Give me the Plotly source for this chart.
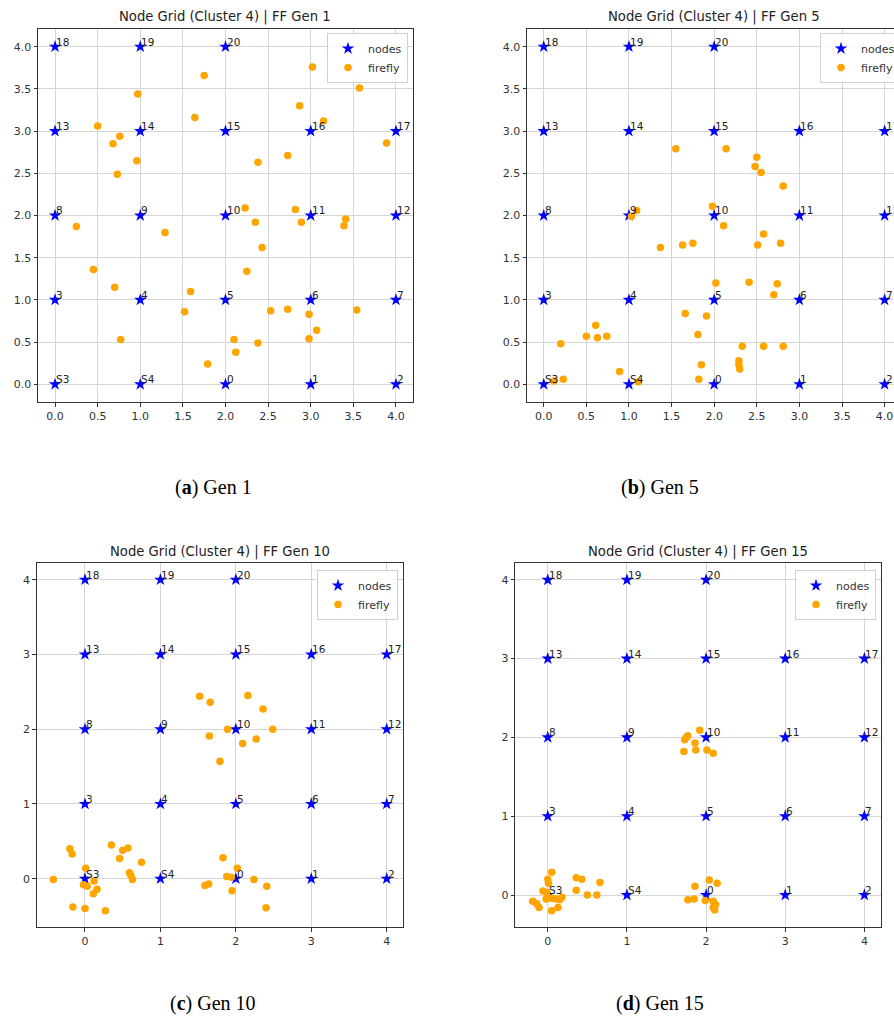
import plotly.graph_objects as go

W, H = 894, 1023

# ---------------- data ----------------
node_x = [0, 1, 2, 3, 4, 0, 1, 2, 3, 4, 0, 1, 2, 3, 4, 0, 1, 2, 3, 4, 0, 1, 2]
node_y = [0, 0, 0, 0, 0, 1, 1, 1, 1, 1, 2, 2, 2, 2, 2, 3, 3, 3, 3, 3, 4, 4, 4]
node_labels = ["S3", "S4", "0", "1", "2", "3", "4", "5", "6", "7", "8", "9", "10",
               "11", "12", "13", "14", "15", "16", "17", "18", "19", "20"]

gen1_x = [1.75, 3.02, 3.57, 0.97, 2.87, 1.64, 3.15, 0.50, 0.76, 0.68, 3.89, 0.96, 2.73, 2.38,
          0.73, 2.23, 2.82, 2.35, 2.89, 3.41, 3.39, 0.25, 1.29, 2.43, 0.45, 2.25, 0.70, 1.59,
          1.52, 2.53, 2.73, 2.98, 3.54, 3.07, 2.98, 0.77, 2.10, 2.38, 2.12, 1.79]
gen1_y = [3.66, 3.76, 3.51, 3.44, 3.30, 3.16, 3.12, 3.06, 2.94, 2.85, 2.86, 2.65, 2.71, 2.63,
          2.49, 2.09, 2.07, 1.92, 1.92, 1.96, 1.88, 1.87, 1.80, 1.62, 1.36, 1.34, 1.15, 1.10,
          0.86, 0.87, 0.89, 0.83, 0.88, 0.64, 0.54, 0.53, 0.53, 0.49, 0.38, 0.24]

gen5_x = [1.55, 2.14, 2.50, 2.48, 2.55, 2.81, 1.98, 1.09, 1.03, 2.11, 2.58, 1.37, 1.63, 1.75,
          2.51, 2.78, 2.02, 2.41, 2.74, 2.70, 1.66, 1.91, 0.61, 0.50, 0.63, 0.74, 0.20, 1.81,
          2.33, 2.58, 2.81, 2.29, 2.29, 2.30, 1.85, 0.89, 1.82, 0.23, 0.12, 1.11]
gen5_y = [2.79, 2.79, 2.69, 2.58, 2.51, 2.35, 2.11, 2.06, 1.99, 1.88, 1.78, 1.62, 1.65, 1.67,
          1.65, 1.67, 1.20, 1.21, 1.19, 1.06, 0.84, 0.81, 0.70, 0.57, 0.55, 0.57, 0.48, 0.59,
          0.45, 0.45, 0.45, 0.28, 0.23, 0.18, 0.23, 0.15, 0.06, 0.06, 0.04, 0.03]

gen10_x = [1.52, 2.16, 1.66, 2.36, 1.89, 2.49, 1.65, 2.27, 2.09, 1.79, 0.35, -0.20, -0.17, 0.57,
           0.50, 0.46, 0.75, 1.83, 0.01, 0.59, 0.61, 0.63, -0.42, 2.02, 1.88, 1.94, 2.24, 0.12,
           -0.02, 0.03, 0.16, 0.11, 1.59, 1.64, 2.41, 1.95, -0.16, 0.00, 0.27, 2.40]
gen10_y = [2.44, 2.45, 2.36, 2.27, 2.00, 2.00, 1.91, 1.87, 1.81, 1.57, 0.45, 0.40, 0.33, 0.41,
           0.38, 0.27, 0.22, 0.28, 0.14, 0.08, 0.04, -0.01, -0.01, 0.14, 0.03, 0.02, -0.01, -0.03,
           -0.08, -0.10, -0.14, -0.20, -0.09, -0.07, -0.10, -0.16, -0.38, -0.40, -0.43, -0.39]

gen15_x = [1.92, 1.77, 1.73, 1.86, 1.87, 1.72, 2.01, 2.09, 0.05, 0.00, 0.36, 0.43, 0.66, 0.01,
           0.36, -0.06, 0.50, 0.62, 2.04, 2.14, 1.86, 1.77, 1.85, 1.99, 2.09, 2.12, 2.09, 2.11,
           0.05, 0.10, 0.18, 0.15, -0.19, -0.14, -0.11, 0.13, 0.05, -0.02, -0.01, 1.75]
gen15_y = [2.09, 2.02, 1.97, 1.93, 1.84, 1.82, 1.84, 1.80, 0.29, 0.20, 0.22, 0.20, 0.16, 0.15,
           0.06, 0.05, 0.00, 0.00, 0.19, 0.15, 0.11, -0.06, -0.05, -0.07, -0.08, -0.12, -0.16, -0.19,
           -0.04, -0.05, -0.03, -0.06, -0.08, -0.11, -0.16, -0.16, -0.20, -0.05, 0.03, 2.00]

titles = ["Node Grid (Cluster 4) | FF Gen 1", "Node Grid (Cluster 4) | FF Gen 5",
          "Node Grid (Cluster 4) | FF Gen 10", "Node Grid (Cluster 4) | FF Gen 15"]
captions = ["(<b>a</b>) Gen 1", "(<b>b</b>) Gen 5", "(<b>c</b>) Gen 10", "(<b>d</b>) Gen 15"]

# ---------------- layout geometry (pixels) ----------------
panels = [
    dict(px=(38, 413), py=(29, 402), xr=[-0.2, 4.2], yr=[-0.21, 4.21], dt=0.5, fmt=".1f",
         fx=gen1_x, fy=gen1_y, leg=(408, 33, "right"), title=(225.5, 17), cap=(213, 487)),
    dict(px=(527, 894), py=(29, 402), xr=[-0.196, 4.11], yr=[-0.21, 4.21], dt=0.5, fmt=".1f",
         fx=gen5_x, fy=gen5_y, leg=(820, 33, "left"), title=(714, 17), cap=(660, 487)),
    dict(px=(36.7, 403.3), py=(563.3, 927.3), xr=[-0.64, 4.22], yr=[-0.65, 4.22], dt=1, fmt="d",
         fx=gen10_x, fy=gen10_y, leg=(398, 570, "right"), title=(220, 551.7), cap=(213, 1003)),
    dict(px=(515.3, 881), py=(563.3, 927.3), xr=[-0.41, 4.21], yr=[-0.41, 4.21], dt=1, fmt="d",
         fx=gen15_x, fy=gen15_y, leg=(876, 570, "right"), title=(698, 551.7), cap=(660, 1003)),
]

fig = go.Figure()
annotations = []
layout_extra = {}

for i, p in enumerate(panels):
    n = i + 1
    sfx = "" if n == 1 else str(n)
    xa, ya = "x" + sfx, "y" + sfx
    legname = "legend" + sfx
    fig.add_trace(go.Scatter(
        x=node_x, y=node_y, mode="markers", name="nodes",
        marker=dict(symbol="star", size=9.5, color="blue", line=dict(width=0)),
        xaxis=xa, yaxis=ya, legend=legname))
    fig.add_trace(go.Scatter(
        x=p["fx"], y=p["fy"], mode="markers", name="firefly",
        marker=dict(symbol="circle", size=7.5, color="orange", line=dict(width=0)),
        xaxis=xa, yaxis=ya, legend=legname))

    axcommon = dict(
        showgrid=True, gridcolor="#d6d6d6", gridwidth=1, zeroline=False,
        showline=True, linecolor="#333333", linewidth=1, mirror=True,
        ticks="outside", ticklen=3.5, tickwidth=0.8, tickcolor="#333333",
        tickfont=dict(family="DejaVu Sans", size=11, color="#333333"),
        dtick=p["dt"], tick0=0, tickformat=p["fmt"], ticklabeloverflow="allow",
    )
    layout_extra["xaxis" + sfx] = dict(
        axcommon, domain=[p["px"][0] / W, min(1.0, p["px"][1] / W)],
        range=p["xr"], anchor=ya)
    layout_extra["yaxis" + sfx] = dict(
        axcommon, domain=[1 - p["py"][1] / H, 1 - p["py"][0] / H],
        range=p["yr"], anchor=xa)

    lx, ly, lanchor = p["leg"]
    layout_extra[legname] = dict(
        x=lx / W, y=1 - ly / H, xanchor=lanchor, yanchor="top",
        xref="paper", yref="paper",
        bgcolor="rgba(255,255,255,0.85)", bordercolor="#d0d0d0", borderwidth=1,
        font=dict(family="DejaVu Sans", size=11, color="#333333"),
        itemwidth=30, tracegroupgap=0)

    for lab, nx, ny in zip(node_labels, node_x, node_y):
        annotations.append(dict(
            x=nx, y=ny, xref=xa, yref=ya, text=lab, showarrow=False,
            xanchor="left", yanchor="bottom", xshift=-1, yshift=-3,
            font=dict(family="DejaVu Sans", size=10.5, color="#222222")))

    tx, ty = p["title"]
    annotations.append(dict(
        x=tx / W, y=1 - ty / H, xref="paper", yref="paper", text=titles[i],
        showarrow=False, xanchor="center", yanchor="middle",
        font=dict(family="DejaVu Sans", size=13.2, color="#222222")))
    cx, cy = p["cap"]
    annotations.append(dict(
        x=cx / W, y=1 - cy / H, xref="paper", yref="paper", text=captions[i],
        showarrow=False, xanchor="center", yanchor="middle",
        font=dict(family="Liberation Serif", size=20, color="#000000")))

fig.update_layout(
    width=W, height=H,
    margin=dict(l=0, r=0, t=0, b=0, pad=0, autoexpand=False),
    paper_bgcolor="white", plot_bgcolor="white",
    showlegend=True,
    annotations=annotations,
    **layout_extra,
)

fig.write_html("out.html")
